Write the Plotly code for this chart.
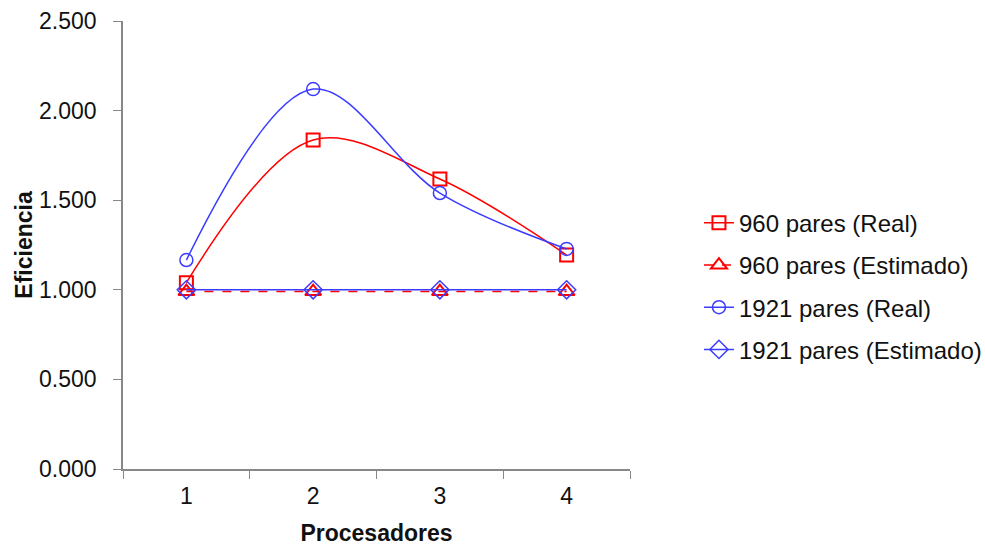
import plotly.graph_objects as go

procesadores = ["1", "2", "3", "4"]
real_960 = [1.04, 1.836, 1.618, 1.194]
est_960 = [0.99, 0.99, 0.99, 0.99]
real_1921 = [1.166, 2.12, 1.54, 1.228]
est_1921 = [1.0, 1.0, 1.0, 1.0]

RED = "#FF0000"
BLUE = "#3C3CFF"

fig = go.Figure()
fig.add_trace(go.Scatter(x=procesadores, y=real_960, name="960 pares (Real)",
                         mode="lines+markers", line=dict(color=RED, width=1.5, shape="spline"),
                         marker=dict(symbol="square-open", size=13, color=RED, line=dict(width=2)),
                         legendgroup="a"))
fig.add_trace(go.Scatter(x=procesadores, y=est_960, name="960 pares (Estimado)",
                         mode="lines+markers", line=dict(color=RED, width=1.5, dash="dash"),
                         marker=dict(symbol="triangle-up-open", size=14, color=RED, line=dict(width=2)),
                         legendgroup="b"))
fig.add_trace(go.Scatter(x=procesadores, y=real_1921, name="1921 pares (Real)",
                         mode="lines+markers", line=dict(color=BLUE, width=1.5, shape="spline"),
                         marker=dict(symbol="circle-open", size=13, color=BLUE, line=dict(width=1.5)),
                         legendgroup="c"))
fig.add_trace(go.Scatter(x=procesadores, y=est_1921, name="1921 pares (Estimado)",
                         mode="lines+markers", line=dict(color=BLUE, width=1.5),
                         marker=dict(symbol="diamond-open", size=14, color=BLUE, line=dict(width=1.5)),
                         legendgroup="d"))

fig.update_layout(
    width=985, height=546,
    margin=dict(l=123, r=355, t=21, b=77, autoexpand=False),
    paper_bgcolor="white", plot_bgcolor="white",
    font=dict(family="Liberation Sans, Arial, sans-serif", size=23, color="#111111"),
    showlegend=True,
    legend=dict(x=1.136, y=0.408, xanchor="left", yanchor="middle",
                font=dict(size=24), traceorder="grouped", tracegroupgap=8,
                bgcolor="rgba(0,0,0,0)"),
    xaxis=dict(type="category", showline=True, linecolor="#888888", linewidth=1.5,
               ticks="outside", tickson="boundaries", ticklen=8, tickcolor="#888888",
               showgrid=False, zeroline=False, range=[-0.5, 3.5], automargin=False,
               ticklabelstandoff=6,
               title=dict(text="<b>Procesadores</b>", font=dict(size=23), standoff=18)),
    yaxis=dict(range=[0, 2.5], dtick=0.5, tickformat=".3f", showline=True,
               linecolor="#888888", linewidth=1.5, ticks="outside", ticklen=8,
               tickcolor="#888888", showgrid=False, zeroline=False, automargin=False,
               ticklabelstandoff=12,
               title=dict(text="<b>Eficiencia</b>", font=dict(size=23), standoff=0)),
)

fig.write_html("out.html", config={"displayModeBar": False},
               post_script="document.body.style.margin='0';document.body.style.overflow='hidden';")
